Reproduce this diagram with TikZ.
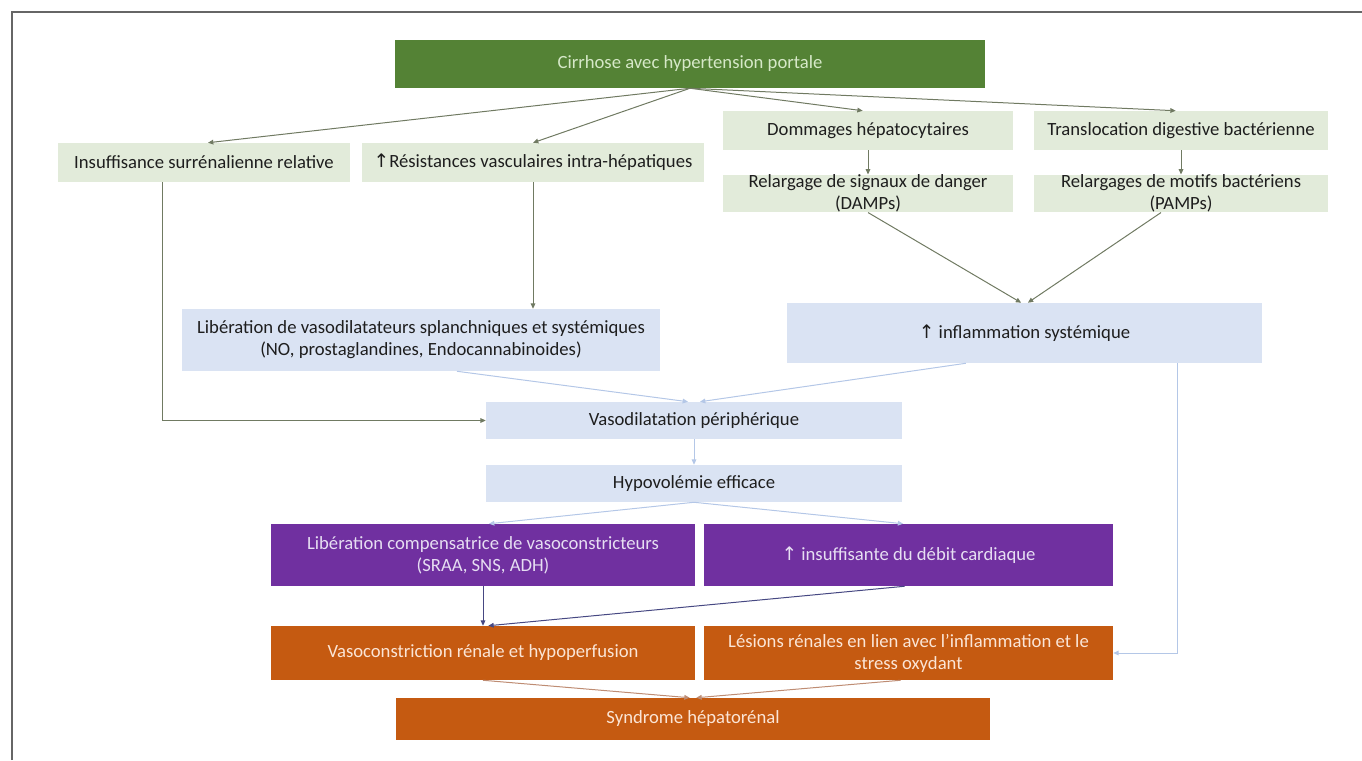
\documentclass[tikz,border=0pt]{standalone}
\usepackage{fontspec}
\setmainfont{Carlito}
\newfontfamily\arrowfont{DejaVu Sans}
\usepackage{tikz}
\usetikzlibrary{arrows.meta, positioning, calc}
\definecolor{hrgreen}{RGB}{84,130,53}
\definecolor{hrgreentxt}{RGB}{214,232,200}
\definecolor{hrlgreen}{RGB}{226,235,218}
\definecolor{hrlblue}{RGB}{218,227,243}
\definecolor{hrpurple}{RGB}{112,48,160}
\definecolor{hrpurpletxt}{RGB}{230,222,242}
\definecolor{hrorange}{RGB}{197,90,17}
\definecolor{hrorangetxt}{RGB}{251,229,214}
\definecolor{hrline}{RGB}{112,122,98}
\definecolor{hrblueline}{RGB}{180,199,231}
\definecolor{hrdarkline}{RGB}{70,72,130}
\definecolor{hrbrownline}{RGB}{190,140,115}
\definecolor{hrtext}{RGB}{30,30,30}
\newcommand{\up}{{\arrowfont\char"2191}}

\begin{document}
\begin{tikzpicture}[x=0.75pt, y=-0.75pt,
  box/.style={rectangle, align=center, inner sep=1pt, font=\fontsize{14}{16.5}\selectfont},
  gbox/.style={box, fill=hrlgreen, text=hrtext},
  bbox/.style={box, fill=hrlblue, text=hrtext},
  pbox/.style={box, fill=hrpurple, text=hrpurpletxt},
  obox/.style={box, fill=hrorange, text=hrorangetxt},
  arr/.style={-{Triangle[length=4pt, width=3.5pt]}, line width=0.75pt, draw=hrline},
  barr/.style={arr, draw=hrblueline},
  parr/.style={arr, draw=hrdarkline},
  oarr/.style={arr, draw=hrbrownline}
]
\useasboundingbox (0,0) rectangle (1362,760);
\draw[line width=1.2pt, gray!80!black] (12,760) -- (12,12) -- (1362,12);

% top of the tree
\node[box, fill=hrgreen, text=hrgreentxt, minimum width=442.5pt, minimum height=36pt] (cirr) at (690,64) {Cirrhose avec hypertension portale};
\node[gbox, minimum width=219pt, minimum height=29.25pt] (ins) at (204,162.5) {Insuffisance surrénalienne relative};
\node[gbox, minimum width=256.5pt, minimum height=29.25pt] (res) at (533,162.5) {\up Résistances vasculaires intra-hépatiques};
\node[gbox, minimum width=217.5pt, minimum height=29.25pt] (dom) at (868,130.5) {Dommages hépatocytaires};
\node[gbox, minimum width=220.5pt, minimum height=29.25pt] (trans) at (1181,130.5) {Translocation digestive bactérienne};
\node[gbox, minimum width=217.5pt, minimum height=26.25pt, inner sep=0pt] (damp) at (868,193.5) {Relargage de signaux de danger\\(DAMPs)};
\node[gbox, minimum width=220.5pt, minimum height=26.25pt, inner sep=0pt] (pamp) at (1181,193.5) {Relargages de motifs bactériens\\(PAMPs)};

% middle
\node[bbox, minimum width=358.5pt, minimum height=46.5pt] (vasod) at (421,340) {Libération de vasodilatateurs splanchniques et systémiques\\(NO, prostaglandines, Endocannabinoides)};
\node[bbox, minimum width=356.25pt, minimum height=45pt] (infl) at (1024.5,333) {\up{} inflammation systémique};
\node[bbox, minimum width=312pt, minimum height=27.75pt] (vdil) at (694,420.5) {Vasodilatation périphérique};
\node[bbox, minimum width=312pt, minimum height=27.75pt] (hypo) at (694,483.5) {Hypovolémie efficace};

% bottom
\node[pbox, minimum width=318pt, minimum height=46.5pt] (comp) at (483,555) {Libération compensatrice de vasoconstricteurs\\(SRAA, SNS, ADH)};
\node[pbox, minimum width=306.75pt, minimum height=46.5pt] (card) at (908.5,555) {\up{} insuffisante du débit cardiaque};
\node[obox, minimum width=318pt, minimum height=40.5pt] (vcon) at (483,653) {Vasoconstriction rénale et hypoperfusion};
\node[obox, minimum width=306.75pt, minimum height=40.5pt] (lesi) at (908.5,653) {Lésions rénales en lien avec l’inflammation et le\\stress oxydant};
\node[obox, minimum width=445.5pt, minimum height=31.5pt] (shr) at (693,719) {Syndrome hépatorénal};

\draw[arr] (cirr.south) -- ([xshift=3pt]ins.north);
\draw[arr] (cirr.south) -- (res.north);
\draw[arr] (cirr.south) -- ([xshift=-4pt]dom.north);
\draw[arr] (cirr.south) -- ([xshift=-4pt]trans.north);
\draw[arr] (dom) -- (damp);
\draw[arr] (trans) -- (pamp);
\draw[arr] (damp.south) -- ([xshift=-2.5pt]infl.north);
\draw[arr] ([xshift=-15pt]pamp.south) -- ([xshift=2.5pt]infl.north);
\draw[arr] (res.south) -- (res.south |- vasod.north);
\draw[arr] ([xshift=-31pt]ins.south) |- (vdil.west);
\draw[barr] ([xshift=27pt]vasod.south) -- ([xshift=-4.5pt]vdil.north);
\draw[barr] ([xshift=-44pt]infl.south) -- ([xshift=4.5pt]vdil.north);
\draw[barr] ([xshift=115pt]infl.south) |- (lesi.east);
\draw[barr] (vdil) -- (hypo);
\draw[barr] (hypo.south) -- ([xshift=4.5pt]comp.north);
\draw[barr] (hypo.south) -- ([xshift=-4pt]card.north);
\draw[parr] (comp) -- (vcon);
\draw[parr] ([xshift=-3pt]card.south) -- ([xshift=4pt]vcon.north);
\draw[oarr] (vcon.south) -- ([xshift=-2.5pt]shr.north);
\draw[oarr] ([xshift=-6pt]lesi.south) -- ([xshift=2.5pt]shr.north);
\end{tikzpicture}
\end{document}
